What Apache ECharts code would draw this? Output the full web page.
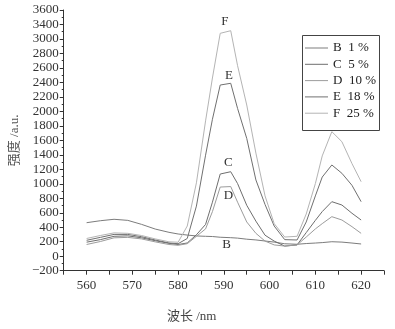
<!DOCTYPE html>
<html>
<head>
<meta charset="utf-8">
<script src="https://cdn.jsdelivr.net/npm/echarts@6/dist/echarts.min.js"></script>
<style>
html,body{margin:0;padding:0;background:#fff;}
#chart{width:395px;height:329px;}
</style>
</head>
<body>
<div id="chart"></div>
<script>
// wavelength (nm)
const wavelengths = [560, 563, 566, 569, 572, 575, 578, 580, 582, 584, 586, 587.5, 589.2, 591.5, 593, 595, 597, 599, 601, 603.3, 606, 608, 610, 611.5, 613.6, 615.8, 618, 620];
// intensities (a.u.)
const seriesB = [463, 490, 510, 495, 440, 375, 330, 307, 292, 280, 275, 272, 262, 256, 250, 235, 225, 210, 195, 172, 165, 175, 182, 188, 200, 195, 182, 169];
const seriesC = [194, 229, 275, 281, 254, 214, 178, 161, 183, 296, 439, 746, 1135, 1167, 1003, 703, 484, 290, 209, 140, 156, 326, 495, 616, 753, 707, 593, 500];
const seriesD = [162, 203, 254, 260, 239, 198, 162, 151, 173, 275, 377, 616, 955, 962, 746, 473, 316, 209, 156, 140, 156, 265, 377, 450, 546, 500, 408, 316];
const seriesE = [220, 260, 301, 301, 270, 224, 183, 173, 245, 692, 1395, 1891, 2364, 2388, 2040, 1627, 1053, 714, 417, 229, 224, 473, 833, 1093, 1260, 1145, 979, 753];
const seriesF = [245, 286, 322, 316, 286, 239, 199, 193, 417, 1013, 1869, 2461, 3078, 3114, 2631, 2088, 1424, 833, 450, 265, 275, 583, 1003, 1385, 1720, 1581, 1279, 1029];

const curveNames = ['B', 'C', 'D', 'E', 'F'];
const curvePercents = ['1 %', '5 %', '10 %', '18 %', '25 %'];
// in-plot curve letters (wavelength, intensity)
const curveLabelX = [590.6, 591, 591, 591.1, 590.2];
const curveLabelY = [162, 1287, 832, 2496, 3235];

// y tick values and the tick labels as printed
const yTickValues = [-200, 0, 200, 400, 600, 800, 1000, 1200, 1400, 1600, 1800, 2000, 2200, 2400, 2600, 2800, 3000, 3200, 3400];
const yTickLabels = ['\u2212200', '0', '200', '400', '600', '800', '1000', '1200', '1400', '1600', '1800', '2000', '2200', '2400', '2600', '2800', '3000', '3400', '3600'];
const xTickLabels = ['560', '570', '580', '590', '600', '610', '620'];

const allSeries = [seriesB, seriesC, seriesD, seriesE, seriesF];
const colors = ['#7c7c7c', '#6e6e6e', '#9c9c9c', '#707070', '#b4b4b4'];
const serif = "'Liberation Serif', 'DejaVu Serif', serif";
const cjk = "'Liberation Serif', 'Noto Sans CJK SC', serif";

const chart = echarts.init(document.getElementById('chart'), null, {renderer: 'canvas'});

const series = curveNames.map((n, i) => ({
  name: n,
  type: 'line',
  data: wavelengths.map((w, k) => [w, allSeries[i][k]]),
  symbol: 'none',
  smooth: false,
  lineStyle: {color: colors[i], width: 1},
  itemStyle: {color: colors[i]},
  z: 2,
  markPoint: {
    silent: true,
    symbol: 'circle',
    symbolSize: 1,
    itemStyle: {color: 'rgba(0,0,0,0)'},
    label: {show: true, position: 'inside', formatter: n, color: '#333', fontFamily: serif, fontSize: 13},
    data: [{coord: [curveLabelX[i], curveLabelY[i]]}]
  }
}));

chart.setOption({
  animation: false,
  backgroundColor: '#fff',
  grid: {left: 56, right: 11, top: 10, bottom: 58.3, containLabel: false},
  xAxis: {
    type: 'value',
    min: 555, max: 625, interval: 5,
    axisLine: {show: true, onZero: false, lineStyle: {color: '#333', width: 1}},
    axisTick: {show: true, length: 4, lineStyle: {color: '#333'}},
    splitLine: {show: false},
    axisLabel: {
      margin: 8, color: '#333', fontFamily: serif, fontSize: 13,
      formatter: v => { const s = String(v); return xTickLabels.indexOf(s) >= 0 ? s : ''; }
    }
  },
  yAxis: {
    type: 'value',
    min: -200, max: 3400, interval: 200,
    axisLine: {show: true, onZero: false, lineStyle: {color: '#333', width: 1}},
    axisTick: {show: true, length: 4, lineStyle: {color: '#333'}},
    minorTick: {show: true, splitNumber: 2, length: 2, lineStyle: {color: '#333'}},
    splitLine: {show: false},
    axisLabel: {
      margin: 5, color: '#333', fontFamily: serif, fontSize: 13,
      formatter: v => { const k = yTickValues.indexOf(v); return k >= 0 ? yTickLabels[k] : ''; }
    },
    name: '强度 /a.u.',
    nameLocation: 'middle',
    nameRotate: 90,
    nameGap: 40,
    nameTextStyle: {color: '#555', fontFamily: cjk, fontSize: 13}
  },
  legend: {
    orient: 'vertical',
    left: 305, top: 40,
    icon: 'rect',
    itemWidth: 23, itemHeight: 1, itemGap: 0.3,
    padding: 0,
    data: curveNames,
    formatter: name => name + '  ' + curvePercents[curveNames.indexOf(name)],
    textStyle: {color: '#222', fontFamily: serif, fontSize: 13, lineHeight: 16}
  },
  graphic: [
    {type: 'rect', left: 300, top: 33, shape: {width: 77, height: 95}, style: {fill: 'none', stroke: '#444', lineWidth: 1}, z: 100},
    {type: 'text', left: 167, top: 310, style: {text: '波长 /nm', fill: '#444', font: "13px 'Liberation Serif', 'Noto Sans CJK SC', serif"}}
  ],
  series: series
});
</script>
</body>
</html>
